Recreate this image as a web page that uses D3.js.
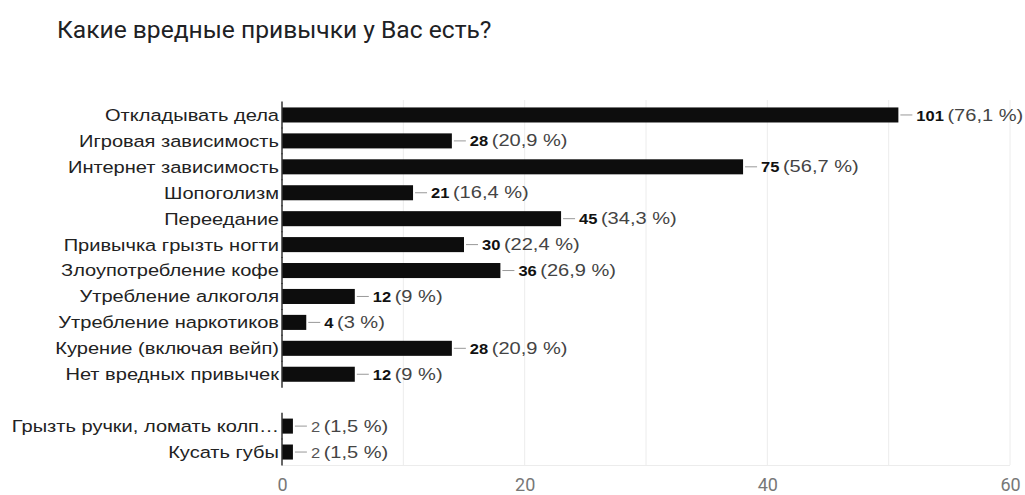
<!DOCTYPE html>
<html lang="ru">
<head>
    <meta charset="UTF-8">
    <title>Какие вредные привычки у Вас есть?</title>
    <script src="https://cdnjs.cloudflare.com/ajax/libs/d3/7.8.5/d3.min.js"></script>
    <style>
        body { margin: 0; background: #fff; }
        svg { display: block; }
    </style>
</head>
<body>
    <div id="chart"></div>

    <script>
        // данные
        const categories = [
            "Откладывать дела",
            "Игровая зависимость",
            "Интернет зависимость",
            "Шопоголизм",
            "Переедание",
            "Привычка грызть ногти",
            "Злоупотребление кофе",
            "Утребление алкоголя",
            "Утребление наркотиков",
            "Курение (включая вейп)",
            "Нет вредных привычек",
            "Грызть ручки, ломать колп…",
            "Кусать губы"
        ];
        const counts = [101, 28, 75, 21, 45, 30, 36, 12, 4, 28, 12, 2, 2];
        const percents = ["76,1", "20,9", "56,7", "16,4", "34,3", "22,4", "26,9", "9", "3", "20,9", "9", "1,5", "1,5"];
        // длина столбцов по шкале оси (как нарисовано)
        const barLengths = [50.8, 14, 38, 10.8, 23, 15, 18, 6, 2, 14, 6, 0.9, 0.9];
        const xTicks = [0, 20, 40, 60];
        const gridTicks = [10, 20, 30, 40, 50, 60];
        const otherStart = 11; // "другие" ответы идут после пустой строки

        const width = 1025;
        const height = 495;
        const stretch = 1.18; // текст на картинке растянут по горизонтали

        const data = categories.map((c, i) => ({
            key: i < otherStart ? "r" + i : "r" + (i + 1),
            label: c,
            count: counts[i],
            pct: percents[i],
            len: barLengths[i],
            other: i >= otherStart
        }));
        const slots = d3.range(categories.length + 1).map(i => "r" + i);

        const svg = d3.select("#chart")
            .append("svg")
            .attr("width", width)
            .attr("height", height);

        svg.append("text")
            .attr("x", 57)
            .attr("y", 38)
            .attr("font-family", "Roboto, sans-serif")
            .attr("font-size", "24.6px")
            .attr("fill", "#202124")
            .text("Какие вредные привычки у Вас есть?");

        const x = d3.scaleLinear()
            .domain([0, 60])
            .range([282, 1010]);

        const y = d3.scaleBand()
            .domain(slots)
            .range([102, 465])
            .paddingInner(0.42)
            .paddingOuter(0.21);

        // сетка
        svg.append("g")
            .selectAll("line")
            .data(gridTicks)
            .join("line")
            .attr("x1", d => x(d))
            .attr("x2", d => x(d))
            .attr("y1", 100)
            .attr("y2", 465)
            .attr("stroke", "#ececec");

        svg.append("line")
            .attr("x1", x(0))
            .attr("x2", x(60))
            .attr("y1", 465.5)
            .attr("y2", 465.5)
            .attr("stroke", "#ececec");

        // подписи оси X
        svg.append("g")
            .attr("transform", "translate(0,475)")
            .call(d3.axisBottom(x).tickValues(xTicks).tickSize(0).tickPadding(0))
            .call(g => g.select(".domain").remove())
            .selectAll("text")
            .attr("font-family", "Roboto, sans-serif")
            .attr("font-size", "18px")
            .attr("fill", "#777")
            .attr("dy", "0.9em");

        // столбцы
        svg.append("g")
            .attr("fill", "#0d0d0d")
            .selectAll("rect")
            .data(data)
            .join("rect")
            .attr("x", x(0))
            .attr("y", d => y(d.key))
            .attr("width", d => x(d.len) - x(0))
            .attr("height", y.bandwidth());

        // базовая линия (по строкам, с разрывом)
        const step = y.step();
        const inner = y.paddingInner() * step / 2;
        svg.append("g")
            .selectAll("line")
            .data(data)
            .join("line")
            .attr("x1", x(0))
            .attr("x2", x(0))
            .attr("y1", d => y(d.key) - inner - 0.5)
            .attr("y2", d => y(d.key) + y.bandwidth() + inner + 0.5)
            .attr("stroke", "#333")
            .attr("stroke-width", 1.5);

        // названия категорий
        svg.append("g")
            .selectAll("text")
            .data(data)
            .join("text")
            .attr("transform", d => `translate(${x(0) - 3},${y(d.key) + y.bandwidth() / 2}) scale(${stretch},1)`)
            .attr("dy", "0.35em")
            .attr("text-anchor", "end")
            .attr("font-family", "'Liberation Sans', Arial, sans-serif")
            .attr("font-size", "17px")
            .attr("fill", "#222")
            .text(d => d.label);

        // подписи значений
        const lab = svg.append("g")
            .selectAll("g")
            .data(data)
            .join("g")
            .attr("transform", d => `translate(${x(d.len)},${y(d.key) + y.bandwidth() / 2})`);

        lab.append("line")
            .attr("x1", 2)
            .attr("x2", 14)
            .attr("stroke", "#999")
            .attr("stroke-width", 1);

        const t = lab.append("text")
            .attr("transform", `translate(18,0) scale(${stretch},1)`)
            .attr("dy", "0.35em")
            .attr("font-family", "'Liberation Sans', Arial, sans-serif");

        t.append("tspan")
            .attr("font-size", "14px")
            .attr("font-weight", d => d.other ? "normal" : "bold")
            .attr("fill", d => d.other ? "#555" : "#111")
            .text(d => d.count);

        t.append("tspan")
            .attr("dx", 3)
            .attr("font-size", "17px")
            .attr("fill", "#444")
            .text(d => `(${d.pct} %)`);
    </script>
</body>
</html>
